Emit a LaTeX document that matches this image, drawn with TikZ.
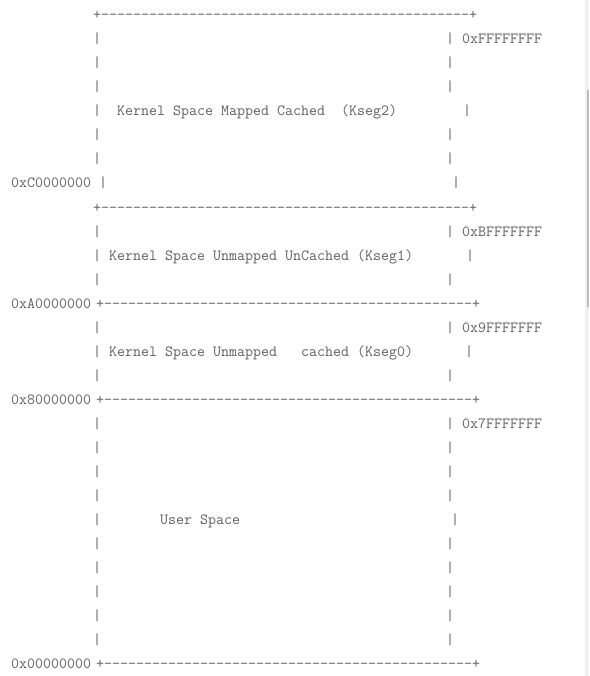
\documentclass[tikz,border=0pt]{standalone}
\usepackage{tikz}

\definecolor{asciigrey}{HTML}{606060}
\definecolor{scrolltrack}{HTML}{F0F0F0}
\definecolor{scrollthumb}{HTML}{BCBCBC}

% one character cell of the mono font is 8pt wide
\newlength\cellwd
\settowidth\cellwd{\ttfamily\fontsize{12}{14}\selectfont 0}
\pgfmathsetmacro\asciisize{12*8pt/\cellwd}

\tikzset{
  ascii/.style={font=\ttfamily\fontsize{\asciisize}{\asciisize}\selectfont,
    text=asciigrey, inner sep=0pt, anchor=base west},
}

\begin{document}
\begin{tikzpicture}[x=1pt,y=-1pt]
	\useasboundingbox (0,0) rectangle (589,676);
	% scroll bar
	\fill[scrolltrack] (585,0) rectangle (589,676);
	\fill[scrollthumb] (587,90) rectangle (589,307);
	
	% Kseg2
	\node[ascii] (kseg2-top) at (93,20) {+----------------------------------------------+};
	\node[ascii] (kseg2-high) at (446,44) {| 0xFFFFFFFF};
	\node[ascii] (kseg2-name) at (93,116) {|~~Kernel Space Mapped Cached~~(Kseg2)};
	\node[ascii] (kseg2-bar) at (463,116) {|};
	\node[ascii] (kseg2-low) at (11,188) {0xC0000000 |};
	\node[ascii] (kseg2-endbar) at (452,188) {|};
	
	% Kseg1
	\node[ascii] (kseg1-top) at (93,212) {+----------------------------------------------+};
	\node[ascii] (kseg1-high) at (446,236) {| 0xBFFFFFFF};
	\node[ascii] (kseg1-name) at (93,260) {| Kernel Space Unmapped UnCached (Kseg1)};
	\node[ascii] (kseg1-bar) at (466,260) {|};
	\node[ascii] (kseg1-low) at (11,308) {0xA0000000};
	\node[ascii] (kseg1-rule) at (96,308) {+----------------------------------------------+};
	
	% Kseg0
	\node[ascii] (kseg0-high) at (446,332) {| 0x9FFFFFFF};
	\node[ascii] (kseg0-name) at (93,356) {| Kernel Space Unmapped~~~cached (Kseg0)};
	\node[ascii] (kseg0-bar) at (465,356) {|};
	\node[ascii] (kseg0-low) at (11,404) {0x80000000};
	\node[ascii] (kseg0-rule) at (96,404) {+----------------------------------------------+};
	
	% User space
	\node[ascii] (useg-high) at (446,428) {| 0x7FFFFFFF};
	\node[ascii] (useg-name) at (160,524) {User Space};
	\node[ascii] (useg-bar) at (451,524) {|};
	\node[ascii] (useg-low) at (11,668) {0x00000000};
	\node[ascii] (useg-rule) at (96,668) {+----------------------------------------------+};
	
	% plain border rows
	\foreach \r in {1,2,3,5,6,9,11,13,15,17,18,19,20,21,22,23,24,25,26}
		\node[ascii] (lbar-\r) at (93,20+24*\r) {|};
	\foreach \r in {2,3,5,6,11,15,18,19,20,22,23,24,25,26}
		\node[ascii] (rbar-\r) at (446,20+24*\r) {|};
\end{tikzpicture}
\end{document}
